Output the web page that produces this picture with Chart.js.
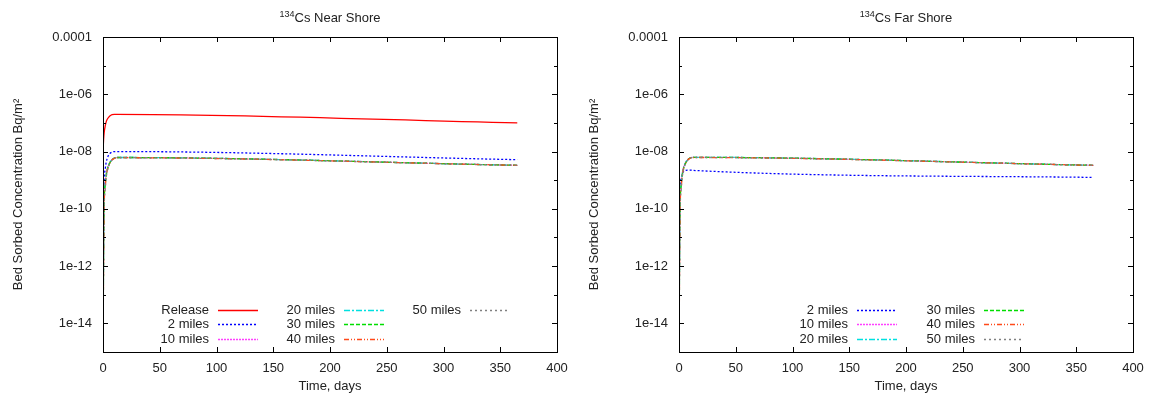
<!DOCTYPE html>
<html>
<head>
<meta charset="utf-8">
<script src="https://cdn.jsdelivr.net/npm/chart.js@4/dist/chart.umd.min.js"></script>
<style>
  body{margin:0;background:#fff;}
  #wrap{display:flex;width:1152px;height:400px;}
  canvas{display:block;}
</style>
</head>
<body>
<div id="wrap">
  <canvas id="near" width="576" height="400"></canvas>
  <canvas id="far" width="576" height="400"></canvas>
</div>
<script>
/* ===== Data ===== */
const days = [0, 0.5, 1, 2, 3, 4, 6, 8, 10, 12, 365];

// near shore
const nearRelease = [1e-8, 2.5e-8, 4.5e-8, 8e-8, 1.15e-7, 1.4e-7, 1.75e-7, 1.95e-7, 2.0e-7, 2.0e-7, 1.0e-7];
const near2  = [1e-16, 5e-11, 8e-10, 2.5e-9, 4.5e-9, 6.2e-9, 8.5e-9, 9.6e-9, 1.0e-8, 1.0e-8, 5.2e-9];
const near10 = [1e-16, 5e-12, 2e-10, 9e-10, 1.8e-9, 2.7e-9, 4.2e-9, 5.3e-9, 6.0e-9, 6.2e-9, 3.3e-9];
const near20 = [1e-16, 3e-12, 1.6e-10, 8e-10, 1.7e-9, 2.6e-9, 4.1e-9, 5.2e-9, 5.9e-9, 6.2e-9, 3.3e-9];
const near30 = [1e-16, 2e-12, 1.3e-10, 7e-10, 1.6e-9, 2.5e-9, 4.0e-9, 5.2e-9, 5.9e-9, 6.2e-9, 3.3e-9];
const near40 = [1e-16, 1e-12, 1.0e-10, 6e-10, 1.5e-9, 2.4e-9, 3.9e-9, 5.1e-9, 5.8e-9, 6.1e-9, 3.3e-9];
const near50 = [1e-16, 8e-13, 8e-11, 5e-10, 1.4e-9, 2.3e-9, 3.8e-9, 5.0e-9, 5.8e-9, 6.1e-9, 3.3e-9];

// far shore
const far2  = [1e-16, 1e-11, 4e-10, 1.2e-9, 1.7e-9, 2.0e-9, 2.2e-9, 2.25e-9, 2.25e-9, 2.2e-9, 1.25e-9];
const far10 = [1e-16, 4e-12, 1.8e-10, 8e-10, 1.8e-9, 2.8e-9, 4.3e-9, 5.4e-9, 6.1e-9, 6.3e-9, 3.3e-9];
const far20 = [1e-16, 3e-12, 1.5e-10, 7.5e-10, 1.7e-9, 2.7e-9, 4.2e-9, 5.3e-9, 6.0e-9, 6.3e-9, 3.3e-9];
const far30 = [1e-16, 2e-12, 1.2e-10, 7e-10, 1.6e-9, 2.6e-9, 4.1e-9, 5.3e-9, 6.0e-9, 6.3e-9, 3.3e-9];
const far40 = [1e-16, 1e-12, 1.0e-10, 6e-10, 1.5e-9, 2.5e-9, 4.0e-9, 5.2e-9, 5.9e-9, 6.2e-9, 3.3e-9];
const far50 = [1e-16, 8e-13, 8e-11, 5e-10, 1.4e-9, 2.4e-9, 3.9e-9, 5.1e-9, 5.9e-9, 6.2e-9, 3.3e-9];

const xTicks = [0, 50, 100, 150, 200, 250, 300, 350, 400];
const yExps  = [-15, -14, -13, -12, -11, -10, -9, -8, -7, -6, -5, -4];

/* ===== Styles ===== */
const STY = {
  'Release':  {color:'#ff0000', dash:[]},
  '2 miles':  {color:'#0000ff', dash:[2,2]},
  '10 miles': {color:'#ff40ff', dash:[2,1]},
  '20 miles': {color:'#00e0e0', dash:[6,2,2,2]},
  '30 miles': {color:'#00dd00', dash:[4,2]},
  '40 miles': {color:'#ff4a1a', dash:[5,2,1,2,1,2]},
  '50 miles': {color:'#808080', dash:[2,3]}
};
const FAM = '"Liberation Sans", Arial, sans-serif';
const FONT = '13px ' + FAM;

// later series drawn on top, like gnuplot
function ds(label, vals, i){
  const s = STY[label];
  return { label, order:-i, data: days.map((d,k)=>({x:d, y:vals[k]})), borderColor:s.color, borderDash:s.dash,
           borderWidth:1.3, pointRadius:0, fill:false, cubicInterpolationMode:'monotone' };
}

/* ===== Frame, ticks, titles, key ===== */
const gnuPlugin = {
  id:'gnu',
  afterDraw(chart, args, opts){
    const c = chart.ctx, a = chart.chartArea, xs = chart.scales.x, ys = chart.scales.y;
    c.save();
    c.strokeStyle = '#000'; c.lineWidth = 1; c.setLineDash([]);
    c.strokeRect(Math.round(a.left)+0.5, Math.round(a.top)+0.5, Math.round(a.right-a.left), Math.round(a.bottom-a.top));
    c.beginPath();
    xTicks.forEach(v=>{ const px = Math.round(xs.getPixelForValue(v))+0.5;
      c.moveTo(px, a.bottom); c.lineTo(px, a.bottom-5); c.moveTo(px, a.top); c.lineTo(px, a.top+5); });
    yExps.forEach(e=>{ const py = Math.round(ys.getPixelForValue(Math.pow(10,e)))+0.5; const L = (e%2===0)?5:3;
      c.moveTo(a.left, py); c.lineTo(a.left+L, py); c.moveTo(a.right, py); c.lineTo(a.right-L, py); });
    c.stroke();
    // title with superscript
    const cx = (a.left+a.right)/2;
    c.fillStyle = '#222'; c.textBaseline = 'alphabetic';
    c.font = FONT; const mainW = c.measureText(opts.title).width;
    c.font = '9px ' + FAM; const supW = c.measureText('134').width;
    let x0 = cx - (mainW+supW)/2;
    c.textAlign = 'left';
    c.fillText('134', x0, 17);
    c.font = FONT; c.fillText(opts.title, x0+supW, 22);
    // x title
    c.textAlign = 'center'; c.fillText('Time, days', cx, 390);
    // y title
    c.save(); c.translate(22, (a.top+a.bottom)/2); c.rotate(-Math.PI/2);
    c.fillText('Bed Sorbed Concentration Bq/m\u00b2', 0, 0); c.restore();
    // key
    c.textBaseline = 'middle';
    opts.key.forEach(k=>{
      const s = STY[k.label];
      c.fillStyle = '#222'; c.textAlign = 'right'; c.font = FONT;
      c.fillText(k.label, k.x, k.y);
      c.strokeStyle = s.color; c.lineWidth = 1.3; c.setLineDash(s.dash);
      c.beginPath(); c.moveTo(k.x+9, k.y+0.5); c.lineTo(k.x+49, k.y+0.5); c.stroke();
    });
    c.restore();
  }
};

function makeChart(id, title, datasets, key){
  new Chart(document.getElementById(id), {
    type:'line',
    data:{ datasets },
    plugins:[gnuPlugin],
    options:{
      responsive:false, animation:false,
      layout:{ padding:{ left:0, top:37, right:19, bottom:0 } },
      plugins:{ legend:{display:false}, tooltip:{enabled:false}, gnu:{title, key} },
      scales:{
        x:{ type:'linear', min:0, max:400,
            grid:{display:false}, border:{display:false},
            ticks:{ stepSize:50, padding:1, color:'#222', font:{family:FAM, size:13}, maxRotation:0 },
            afterFit(s){ s.height = 48; } },
        y:{ type:'logarithmic', min:1e-15, max:1e-4,
            grid:{display:false}, border:{display:false},
            afterBuildTicks(s){ s.ticks = yExps.map(e=>({value:Math.pow(10,e)})); },
            ticks:{ padding:3, color:'#222', autoSkip:false, font:{family:FAM, size:13},
              callback(v){ const e = Math.round(Math.log10(v)); if(e%2!==0) return '';
                if(e===-4) return '0.0001'; return '1e-' + String(-e).padStart(2,'0'); } },
            afterFit(s){ s.width = 103; } }
      }
    }
  });
}

makeChart('near', 'Cs Near Shore', [
  ds('Release', nearRelease, 0), ds('2 miles', near2, 1), ds('10 miles', near10, 2), ds('20 miles', near20, 3),
  ds('30 miles', near30, 4), ds('40 miles', near40, 5), ds('50 miles', near50, 6)
], [
  {label:'Release', x:209, y:310}, {label:'2 miles', x:209, y:324}, {label:'10 miles', x:209, y:339},
  {label:'20 miles', x:335, y:310}, {label:'30 miles', x:335, y:324}, {label:'40 miles', x:335, y:339},
  {label:'50 miles', x:461, y:310}
]);

makeChart('far', 'Cs Far Shore', [
  ds('2 miles', far2, 0), ds('10 miles', far10, 1), ds('20 miles', far20, 2),
  ds('30 miles', far30, 3), ds('40 miles', far40, 4), ds('50 miles', far50, 5)
], [
  {label:'2 miles', x:272, y:310}, {label:'10 miles', x:272, y:324}, {label:'20 miles', x:272, y:339},
  {label:'30 miles', x:399, y:310}, {label:'40 miles', x:399, y:324}, {label:'50 miles', x:399, y:339}
]);
</script>
</body>
</html>
